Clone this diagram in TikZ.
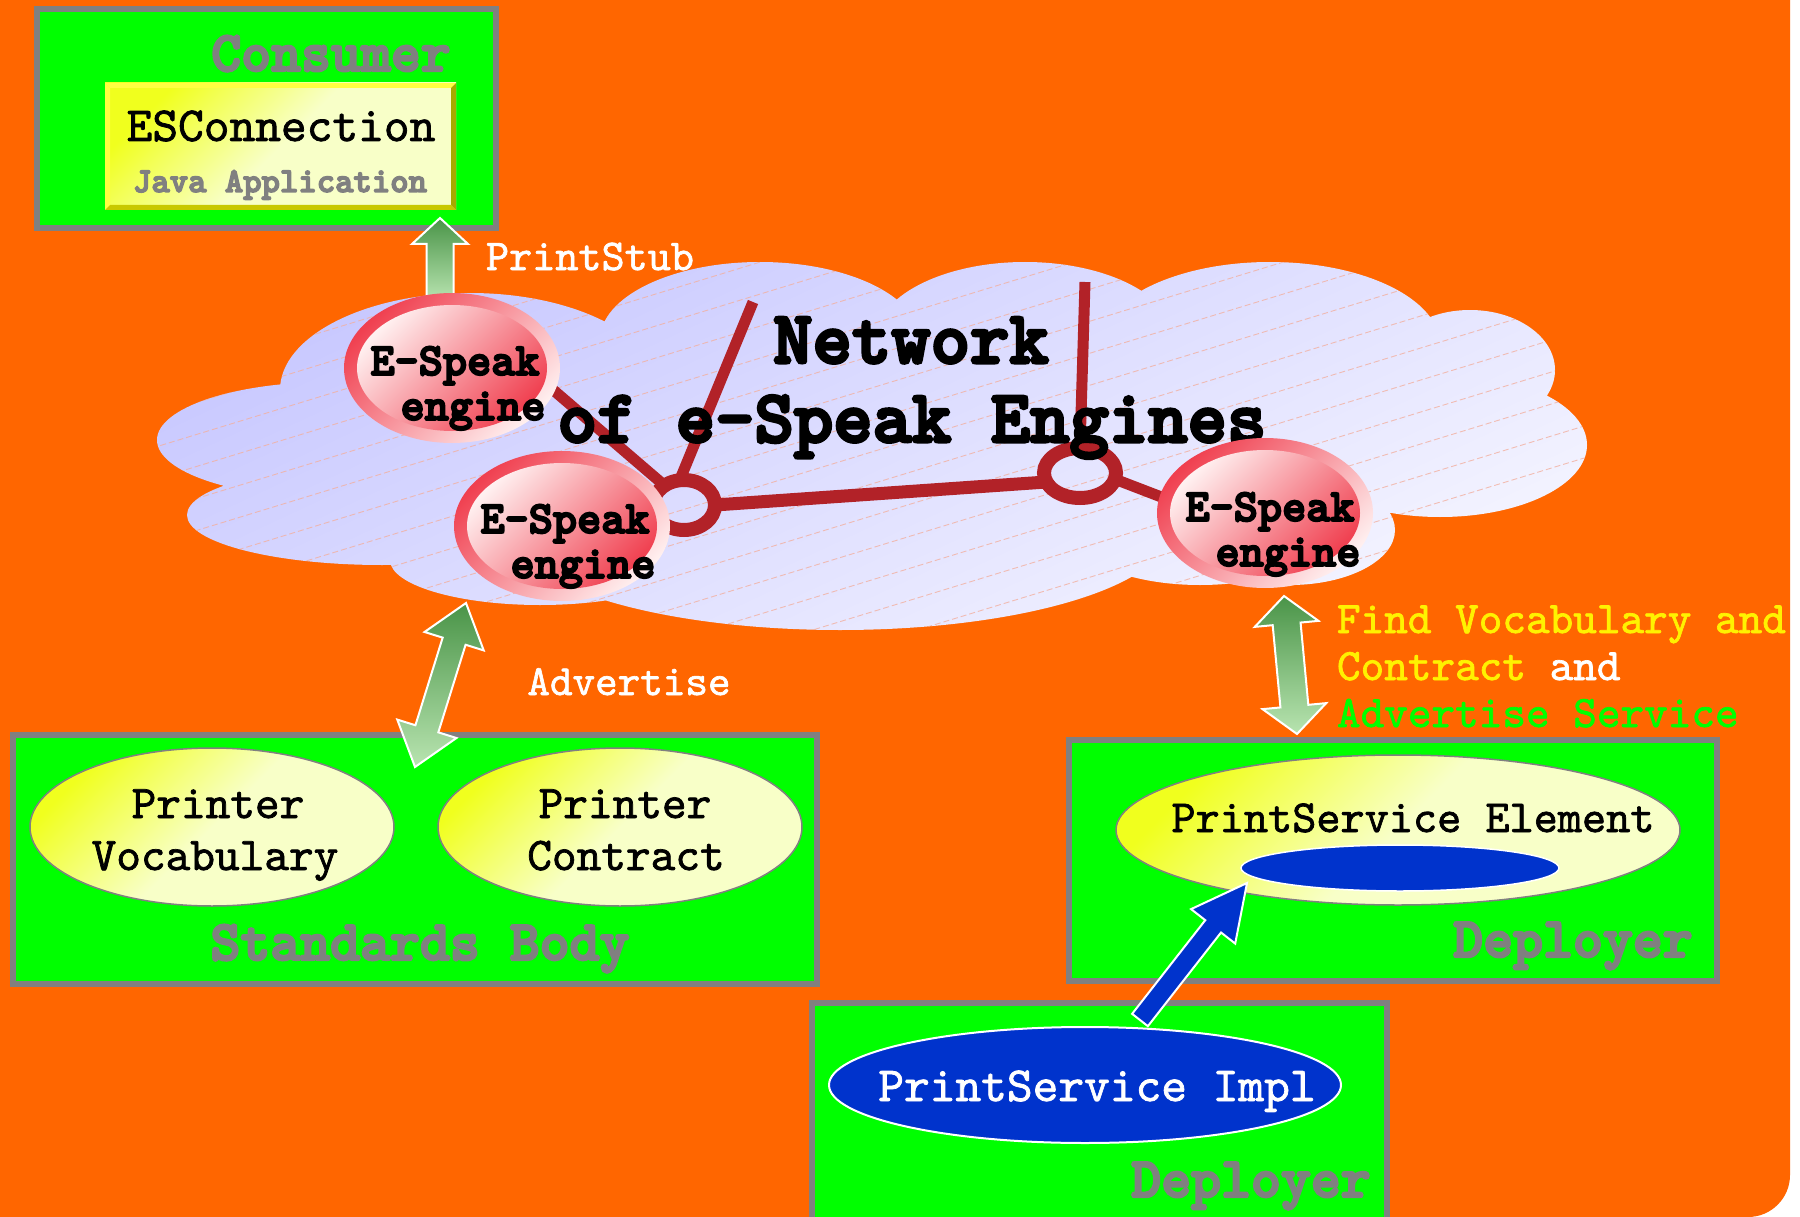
\documentclass[tikz,border=0pt]{standalone}
\usepackage{fontspec}
\newfontfamily\mono[Extension=.otf, BoldFont=lmmonolt10-bold, UprightFeatures={FakeBold=1.5}, BoldFeatures={FakeBold=4}]{lmmono10-regular}
\usetikzlibrary{calc,shapes.geometric}
\definecolor{bgor}{HTML}{FF6600}
\definecolor{boxg}{HTML}{00FF00}
\definecolor{bgray}{HTML}{808080}
\definecolor{wire}{HTML}{B22228}
\definecolor{dblue}{HTML}{0033CC}
\definecolor{lav1}{HTML}{C8C8FF}
\definecolor{lav2}{HTML}{F4F4FF}
\definecolor{yel1}{HTML}{F0FF1E}
\definecolor{yel2}{HTML}{F8FFC8}
\definecolor{eng1}{HTML}{F04050}
\definecolor{eng2}{HTML}{FFF0F0}
\definecolor{garr1}{HTML}{4A9448}
\definecolor{garr2}{HTML}{B8E4B0}
\definecolor{stripec}{HTML}{F2B0A0}
\definecolor{bevlight}{HTML}{FFFF40}
\definecolor{bevdark}{HTML}{C8C800}
\definecolor{bevdarker}{HTML}{A8A800}
\newcommand\fs[1]{\mono\fontsize{#1}{#1}\selectfont}
\newcommand\sarrow[6]{\path[#1] ($(#2)!#4!90:(#3)$) -- ($(#3)!#6!(#2)!#4!-90:(#2)$) -- ($(#3)!#6!(#2)!#5!-90:(#2)$) -- (#3) -- ($(#3)!#6!(#2)!#5!90:(#2)$) -- ($(#3)!#6!(#2)!#4!90:(#2)$) -- ($(#2)!#4!-90:(#3)$) -- cycle;}
\newcommand\darrow[6]{\path[#1] (#2) -- ($(#2)!#6!(#3)!#5!90:(#3)$) -- ($(#2)!#6!(#3)!#4!90:(#3)$) -- ($(#3)!#6!(#2)!#4!-90:(#2)$) -- ($(#3)!#6!(#2)!#5!-90:(#2)$) -- (#3) -- ($(#3)!#6!(#2)!#5!90:(#2)$) -- ($(#3)!#6!(#2)!#4!90:(#2)$) -- ($(#2)!#6!(#3)!#4!-90:(#3)$) -- ($(#2)!#6!(#3)!#5!-90:(#3)$) -- cycle;}
\newcommand\cloudpath{(330,440) ellipse [x radius=173pt, y radius=58pt]
 (382,515) ellipse [x radius=195pt, y radius=50pt]
 (540,560) ellipse [x radius=150pt, y radius=45pt]
 (470,390) ellipse [x radius=190pt, y radius=97pt]
 (760,340) ellipse [x radius=160pt, y radius=78pt]
 (1025,340) ellipse [x radius=150pt, y radius=78pt]
 (1270,345) ellipse [x radius=170pt, y radius=83pt]
 (1470,370) ellipse [x radius=85pt, y radius=60pt]
 (1440,445) ellipse [x radius=147pt, y radius=72pt]
 (1290,530) ellipse [x radius=105pt, y radius=55pt]
 (1200,530) ellipse [x radius=130pt, y radius=55pt]
 (840,530) ellipse [x radius=330pt, y radius=100pt]
 (870,440) ellipse [x radius=620pt, y radius=110pt]}
\tikzset{
 box/.style={rectangle, draw=bgray, line width=6pt, fill=boxg, inner sep=0pt, outer sep=0pt},
 yell/.style={ellipse, draw=bgray, line width=1.5pt, inner sep=0pt, outer sep=0pt, top color=yel1, bottom color=yel2, middle color=yel2, shading angle=45},
 escbox/.style={rectangle, inner sep=0pt, outer sep=0pt, top color=yel1, bottom color=yel2, middle color=yel2, shading angle=45},
 engout/.style={ellipse, minimum width=216pt, minimum height=150pt, inner sep=0pt, outer sep=0pt, top color=eng1, bottom color=eng2, shading angle=45},
 enginn/.style={top color=eng2, bottom color=eng1, shading angle=45},
 hub/.style={ellipse, inner sep=0pt, outer sep=0pt, draw=none},
 ring/.style={draw=wire, line width=14pt},
 wireline/.style={draw=wire, line width=11pt},
 garrow/.style={shade, top color=garr1, bottom color=garr2, draw=white, line width=2pt},
 barrow/.style={fill=dblue, draw=white, line width=2pt},
 txt/.style={inner sep=0pt, outer sep=0pt, anchor=base},
 lbl/.style={txt, font=\fs{57}\bfseries, text=bgray},
}
\begin{document}
\begin{tikzpicture}[x=1pt,y=-1pt]
\useasboundingbox (0,0) rectangle (1800,1217);
\clip (0,0) rectangle (1800,1217);
\fill[white] (0,0) rectangle (1800,1217);
\fill[bgor, rounded corners=42pt] (-60,-60) rectangle (1790,1217);

% boxes
\node[box, minimum width=459pt, minimum height=219pt] (cons) at (266.5,118.5) {};
\node[box, minimum width=804pt, minimum height=249pt] (std) at (415,859.5) {};
\node[box, minimum width=648pt, minimum height=241pt] (dep1) at (1393,860.5) {};
\node[box, minimum width=575pt, minimum height=237pt] (dep2) at (1099.5,1121.5) {};

% ESConnection bevelled box
\node[escbox, minimum width=351pt, minimum height=127pt] (esc) at (280.5,146.5) {};
\fill[bevlight] (esc.north west) -- (esc.north east) -- ($(esc.north east)+(-5,5)$) -- ($(esc.north west)+(5,5)$) -- cycle;
\fill[bevlight] (esc.north west) -- ($(esc.north west)+(5,5)$) -- ($(esc.south west)+(5,-5)$) -- (esc.south west) -- cycle;
\fill[bevdark] (esc.south west) -- ($(esc.south west)+(5,-5)$) -- ($(esc.south east)+(-5,-5)$) -- (esc.south east) -- cycle;
\fill[bevdarker] (esc.north east) -- (esc.south east) -- ($(esc.south east)+(-5,-5)$) -- ($(esc.north east)+(-5,5)$) -- cycle;
\node[txt, font=\fs{49}] (esct) at (281,141) {ESConnection};
\node[txt, font=\fs{35}\bfseries, text=bgray] (java) at (280,192) {Java Application};
\node[lbl] (const) at (331,71) {Consumer};

% PrintStub arrow
\coordinate (pstail) at (440,300);
\coordinate (pstip) at (440,218);
\sarrow{garrow}{pstail}{pstip}{13.5pt}{28pt}{26pt}

% cloud
\shade[top color=lav1, bottom color=lav2, shading angle=25] \cloudpath;
\begin{scope}
\clip \cloudpath;
\foreach \k in {240,272,...,1140} {
  \draw[stripec, line width=0.9pt, dash pattern=on 6pt off 3pt, opacity=0.8] (100,\k) -- ++(1700,-520);
}
\end{scope}

% network wires
\node[hub, minimum width=62pt, minimum height=50pt] (r1) at (684,505) {};
\node[hub, minimum width=72pt, minimum height=50pt] (r2) at (1080,473) {};
\coordinate (la) at (753,302);
\coordinate (lb) at (1085,282);
\coordinate (lc) at (530,370);
\coordinate (le) at (1190,508);
\draw[wireline] (r1.100) -- (la);
\draw[wireline] (lc) -- (r1.135);
\draw[wire, line width=13pt] (r1.0) -- (r2.195);
\draw[wireline] (r2.north) -- (lb);
\draw[wireline] (r2.-10) -- (le);
\draw[ring] (r1.center) ellipse [x radius=31pt, y radius=25pt];
\draw[ring] (r2.center) ellipse [x radius=36pt, y radius=25pt];

% title
\node[txt, font=\fs{75}\bfseries] (net1) at (911,363) {Network};
\node[txt, font=\fs{75}\bfseries] (net2) at (912,442) {of e-Speak Engines};

% engines
\node[engout] (e1) at (452,368) {};
\shade[enginn] (e1.center) ellipse [x radius=95pt, y radius=63pt];
\node[engout] (e2) at (562,526) {};
\shade[enginn] (e2.center) ellipse [x radius=95pt, y radius=63pt];
\node[engout] (e3) at (1265,513) {};
\shade[enginn] (e3.center) ellipse [x radius=95pt, y radius=63pt];
\node[txt, font=\fs{46}\bfseries] (e1a) at (455,375) {E-Speak};
\node[txt, font=\fs{46}\bfseries] (e1b) at (473,420) {engine};
\node[txt, font=\fs{46}\bfseries] (e2a) at (565,533) {E-Speak};
\node[txt, font=\fs{46}\bfseries] (e2b) at (583,578) {engine};
\node[txt, font=\fs{46}\bfseries] (e3a) at (1270,521) {E-Speak};
\node[txt, font=\fs{46}\bfseries] (e3b) at (1288,566) {engine};

% PrintStub label
\node[txt, font=\fs{44}, text=white] (pst) at (590,270) {PrintStub};

% Standards body
\node[yell, minimum width=364pt, minimum height=158pt] (pv) at (212,827) {};
\node[yell, minimum width=364pt, minimum height=158pt] (pc) at (620,827) {};
\node[txt, font=\fs{47}] (pv1) at (218,818) {Printer};
\node[txt, font=\fs{47}] (pv2) at (215,870) {Vocabulary};
\node[txt, font=\fs{47}] (pc1) at (625,818) {Printer};
\node[txt, font=\fs{47}] (pc2) at (626,870) {Contract};
\node[lbl] (stdt) at (420,960) {Standards Body};

% Advertise arrow
\coordinate (adtop) at (466,603);
\coordinate (adbot) at (415,767);
\darrow{garrow}{adtop}{adbot}{12pt}{31pt}{40pt}
\node[txt, font=\fs{43}, text=white] (adv) at (629,695) {Advertise};

% right double arrow and labels
\coordinate (fvtop) at (1284,596);
\coordinate (fvbot) at (1297,734);
\darrow{garrow}{fvtop}{fvbot}{14pt}{32pt}{28pt}
\node[txt, font=\fs{45}, anchor=base west, text=yellow] (fv1) at (1337,633) {Find Vocabulary and};
\node[txt, font=\fs{45}, anchor=base west, text=yellow] (fv2) at (1337,680) {Contract \textcolor{white}{and}};
\node[txt, font=\fs{45}, anchor=base west, text=boxg] (fv3) at (1337,727) {Advertise Service};

% Deployer (element)
\node[yell, minimum width=564pt, minimum height=150pt] (pse) at (1398,830) {};
\node[ellipse, fill=dblue, draw=white, line width=1.5pt, inner sep=0pt, minimum width=318pt, minimum height=46pt] (slot) at (1400,868) {};
\node[txt, font=\fs{46}] (pset) at (1413,832) {PrintService Element};
\node[lbl] (dep1t) at (1573,957) {Deployer};

% Deployer (impl)
\node[ellipse, fill=dblue, draw=white, line width=2pt, inner sep=0pt, minimum width=512pt, minimum height=116pt] (psi) at (1085,1085) {};
\node[txt, font=\fs{49}, text=white] (psit) at (1097,1101) {PrintService Impl};
\node[lbl] (dep2t) at (1251,1197) {Deployer};

% blue arrow
\coordinate (bltail) at (1140,1020);
\coordinate (bltip) at (1247,883);
\sarrow{barrow}{bltail}{bltip}{10pt}{28pt}{55pt}
\end{tikzpicture}
\end{document}
